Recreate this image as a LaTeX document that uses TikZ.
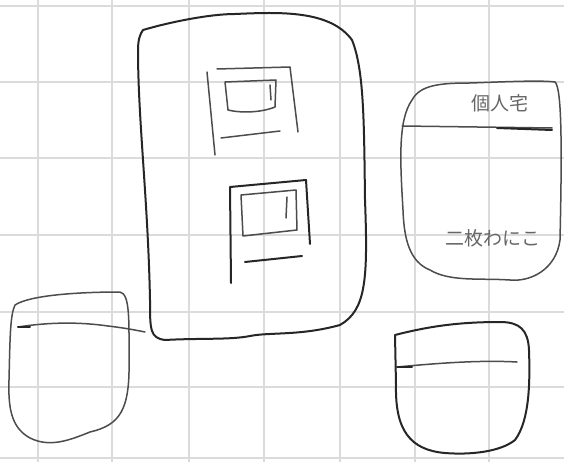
\documentclass[tikz,border=0pt]{standalone}
\usepackage{fontspec}
\newfontfamily\cjk{Noto Sans CJK JP}
\begin{document}
\begin{tikzpicture}[x=1pt,y=-1pt,
  gridline/.style={draw=gray!28,line width=1.3pt},
  pen/.style={draw=black!85,line width=2pt,line cap=round,line join=round},
  thinpen/.style={draw=black!70,line width=1.5pt,line cap=round,line join=round},
  hand/.style={font=\cjk\fontsize{19}{19}\selectfont,text=black!60,inner sep=0pt}]
\useasboundingbox (0,0) rectangle (564,462);
\fill[white] (0,0) rectangle (564,462);
% grid
\foreach \gx in {38,112,189,264,340,415,489}
  \draw[gridline] (\gx,0) -- (\gx,462);
\foreach \gy in {6,82,158,235,312,387,458}
  \draw[gridline] (0,\gy) -- (564,\gy);
% big block
\draw[pen] (143,30) .. controls (170,22) and (210,14) .. (235,14)
  .. controls (280,12) and (330,10) .. (352,40)
  .. controls (364,70) and (364,120) .. (365,200)
  .. controls (368,280) and (366,310) .. (340,325)
  .. controls (300,336) and (270,332) .. (250,336)
  .. controls (230,340) and (200,338) .. (165,340)
  .. controls (150,338) and (150,330) .. (150,300)
  .. controls (148,200) and (138,120) .. (138,50)
  .. controls (138,40) and (140,34) .. (143,30);
% upper window
\draw[thinpen] (207,72) -- (215,155);
\draw[thinpen] (217,69) -- (290,67) -- (298,132);
\draw[thinpen] (221,138) -- (280,131);
\draw[thinpen] (225,82) -- (276,80) -- (275,107) .. controls (260,113) and (240,113) .. (228,110) -- (225,82);
\draw[thinpen] (270,85) -- (271,100);
% lower window
\draw[pen] (231,283) -- (230,187) -- (306,180) -- (310,244);
\draw[pen] (245,262) -- (302,256);
\draw[thinpen] (241,195) -- (296,190) -- (297,230) -- (243,236) -- (241,195);
\draw[thinpen] (287,197) -- (286,218);
% right box
\draw[thinpen] (412,100) .. controls (420,85) and (440,83) .. (470,83)
  .. controls (500,82) and (540,80) .. (555,82)
  .. controls (562,88) and (562,150) .. (560,240)
  .. controls (556,270) and (530,282) .. (510,280)
  .. controls (480,278) and (450,282) .. (430,270)
  .. controls (410,262) and (404,240) .. (403,210)
  .. controls (400,160) and (398,120) .. (412,100);
\draw[thinpen] (402,126) -- (552,128);
\draw[pen] (497,128) -- (552,130);
\node[hand] (upper) at (500,103) {個人宅};
\node[hand] (lower) at (493,238) {二枚わにこ};
% bottom-left box
\draw[thinpen] (15,305) .. controls (30,295) and (80,292) .. (120,292)
  .. controls (130,294) and (129,320) .. (129,360)
  .. controls (130,410) and (120,425) .. (90,432)
  .. controls (70,440) and (50,448) .. (30,438)
  .. controls (12,428) and (8,410) .. (9,380)
  .. controls (10,340) and (10,315) .. (15,305);
\draw[thinpen] (18,327) .. controls (50,322) and (80,322) .. (108,326)
  .. controls (125,328) and (135,330) .. (145,332);
\draw[pen] (18,327) -- (30,327);
% bottom-right box
\draw[pen] (395,335) -- (396,385) .. controls (395,430) and (410,450) .. (445,453)
  .. controls (470,455) and (500,452) .. (515,440)
  .. controls (530,420) and (530,380) .. (529,350)
  .. controls (528,330) and (520,322) .. (500,322)
  .. controls (460,322) and (430,326) .. (395,335) -- cycle;
\draw[thinpen] (397,367) .. controls (440,363) and (480,360) .. (517,362);
\draw[pen] (397,367) -- (412,367);
\end{tikzpicture}
\end{document}
